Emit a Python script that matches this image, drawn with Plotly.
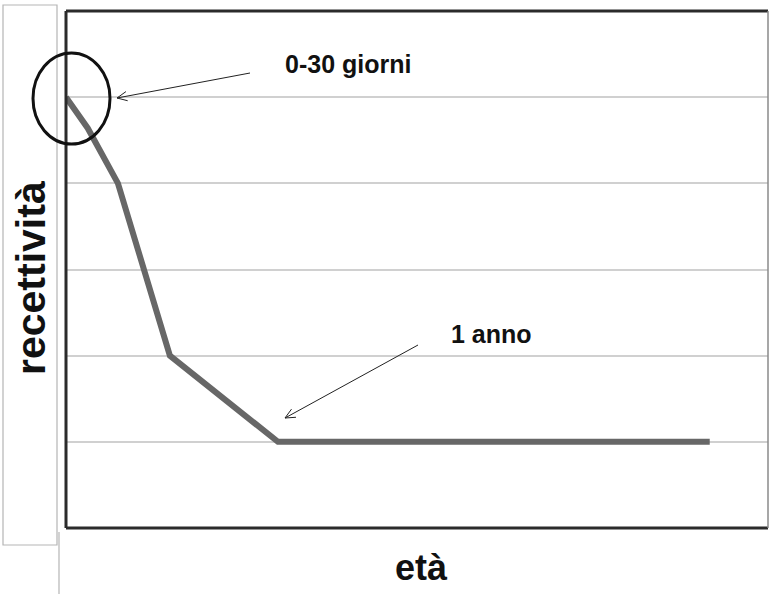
import math
import plotly.graph_objects as go

# Data (arbitrary units)
eta = [0, 3.1, 7.4, 14.8, 30.2, 91.7]
recettivita = [5, 4.64, 4, 2, 1, 1]
x_range = [0, 100]
y_range = [0, 6]
y_ticks = [1, 2, 3, 4, 5]

W, H = 769, 594
L, R, T, B = 66, 1, 11, 66
PW, PH = W - L - R, H - T - B


def px(x, y):
    """pixel -> paper coords"""
    return (x - L) / PW, (H - B - y) / PH


fig = go.Figure()
fig.add_trace(go.Scatter(
    x=eta, y=recettivita, mode="lines",
    line=dict(color="#676767", width=6, shape="linear"),
    hoverinfo="skip", showlegend=False,
))

shapes = []
# left grey box
x0, y0 = px(3, 545)
x1, y1 = px(57, 5)
shapes.append(dict(type="rect", xref="paper", yref="paper", x0=x0, y0=y0, x1=x1, y1=y1,
                   line=dict(color="#b5b5b5", width=1.2), layer="below"))
# thin vertical line below plot
a0, b0 = px(59, 532)
a1, b1 = px(59, 594)
shapes.append(dict(type="line", xref="paper", yref="paper", x0=a0, y0=b0, x1=a1, y1=b1,
                   line=dict(color="#b5b5b5", width=1.2)))
# frame: thick top/left/bottom, thin right
shapes.append(dict(type="line", xref="paper", yref="paper", x0=0, y0=1, x1=1, y1=1,
                   line=dict(color="#2b2b2b", width=3)))
shapes.append(dict(type="line", xref="paper", yref="paper", x0=0, y0=0, x1=1, y1=0,
                   line=dict(color="#2b2b2b", width=3)))
shapes.append(dict(type="line", xref="paper", yref="paper", x0=0, y0=0, x1=0, y1=1,
                   line=dict(color="#2b2b2b", width=3)))
shapes.append(dict(type="line", xref="paper", yref="paper", x0=1, y0=0, x1=1, y1=1,
                   line=dict(color="#8a8a8a", width=1.5)))
# ellipse around the start
e0x, e0y = px(33, 144)
e1x, e1y = px(110, 53)
shapes.append(dict(type="circle", xref="paper", yref="paper", x0=e0x, y0=e0y, x1=e1x, y1=e1y,
                   line=dict(color="#111111", width=3)))


def arrow(tail, head, size=11, ang=25):
    tx, ty = tail
    hx, hy = head
    d = math.atan2(ty - hy, tx - hx)
    out = []
    p0 = px(tx, ty)
    p1 = px(hx, hy)
    out.append(dict(type="line", xref="paper", yref="paper", x0=p0[0], y0=p0[1], x1=p1[0], y1=p1[1],
                    line=dict(color="#222222", width=1)))
    for s in (-1, 1):
        a = d + s * math.radians(ang)
        wx, wy = hx + size * math.cos(a), hy + size * math.sin(a)
        q = px(wx, wy)
        out.append(dict(type="line", xref="paper", yref="paper", x0=p1[0], y0=p1[1], x1=q[0], y1=q[1],
                        line=dict(color="#222222", width=1)))
    return out


shapes += arrow((250, 73), (117, 98))
shapes += arrow((418, 345), (285, 418))

annotations = []
for text, (ax_, ay_), size in [("0-30 giorni", (348, 64), 25), ("1 anno", (492, 334), 25)]:
    p = px(ax_, ay_)
    annotations.append(dict(text="<b>%s</b>" % text, x=p[0], y=p[1], xref="paper", yref="paper",
                            showarrow=False, font=dict(family="Liberation Sans, Arial", size=size, color="#111111"),
                            xanchor="center", yanchor="middle"))
p = px(31, 278)
annotations.append(dict(text="<b>recettività</b>", x=p[0], y=p[1], xref="paper", yref="paper",
                        showarrow=False, textangle=-90,
                        font=dict(family="Liberation Sans, Arial", size=41, color="#111111"),
                        xanchor="center", yanchor="middle"))
p = px(421, 567)
annotations.append(dict(text="<b>età</b>", x=p[0], y=p[1], xref="paper", yref="paper",
                        showarrow=False,
                        font=dict(family="Liberation Sans, Arial", size=36, color="#111111"),
                        xanchor="center", yanchor="middle"))

fig.update_layout(
    width=W, height=H,
    margin=dict(l=L, r=R, t=T, b=B, pad=0),
    paper_bgcolor="white", plot_bgcolor="white",
    shapes=shapes, annotations=annotations,
    xaxis=dict(range=x_range, showgrid=False, zeroline=False, showticklabels=False, ticks="",
               showline=False, fixedrange=True),
    yaxis=dict(range=y_range, tickvals=y_ticks, showgrid=True, gridcolor="#d0d0d0", gridwidth=2,
               zeroline=False, showticklabels=False, ticks="", showline=False, fixedrange=True),
    showlegend=False,
)

fig.write_html("out.html", config={"displayModeBar": False},
               post_script="document.body.style.margin='0';document.body.style.overflow='hidden';")
